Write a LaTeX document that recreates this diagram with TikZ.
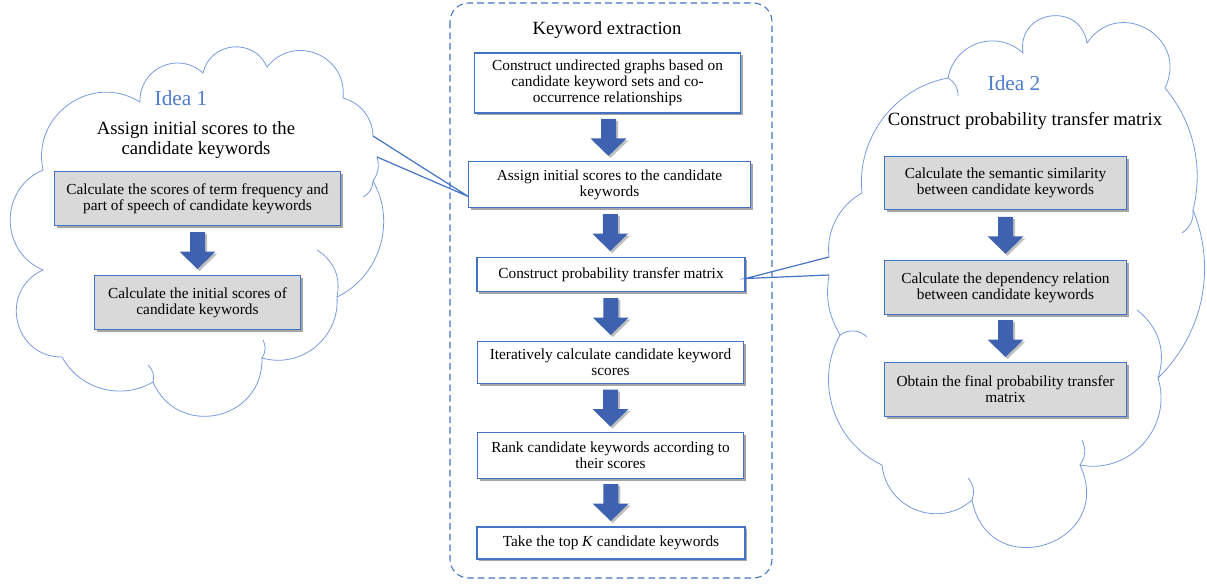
\documentclass[tikz,border=0pt]{standalone}
\usepackage{fontspec}
\setmainfont{Liberation Serif}
\usetikzlibrary{shadows,calc}

\definecolor{boxblue}{RGB}{68,114,196}
\definecolor{cloudblue}{RGB}{120,155,222}
\definecolor{arrowblue}{RGB}{62,98,176}
\definecolor{boxgray}{RGB}{217,217,217}
\definecolor{ideablue}{RGB}{78,124,206}

\tikzset{
  stepbox/.style={draw=boxblue, fill=white, line width=0.8pt, align=center,
    font=\fontsize{11.5}{11.8}\selectfont, inner sep=2pt,
    drop shadow={shadow xshift=1.8pt, shadow yshift=-1.8pt, opacity=0.35, fill=black}},
  graybox/.style={stepbox, fill=boxgray},
  blockarr/.style={fill=arrowblue,
    drop shadow={shadow xshift=1.5pt, shadow yshift=-1.5pt, opacity=0.25, fill=black}},
  cloudline/.style={draw=cloudblue, line width=0.6pt},
  callout/.style={draw=boxblue, line width=0.9pt},
  puff/.style={bend right=#1},
}
% block arrow half way between two boxes
\newcommand{\blockarrow}[2]{%
  \path [blockarr] ($(#1.south)!0.5!(#2.north)$) ++(-7.5,-18.5) -- ++(15,0) -- ++(0,19.5)
    -- ++(10.5,0) -- ++(-18,17.5) -- ++(-18,-17.5) -- ++(10.5,0) -- cycle;}

\begin{document}
\begin{tikzpicture}[x=0.75pt,y=0.75pt,yscale=-1,xscale=1]
\useasboundingbox (0,0) rectangle (1207,583);

% keyword extraction frame
\draw [boxblue, line width=0.8pt, dash pattern=on 5pt off 3pt, rounded corners=14pt] (450,3) rectangle (772,578);
\node [font=\fontsize{14}{16}\selectfont] (title) at (607,30) {Keyword extraction};

\node [stepbox, minimum width=200pt, minimum height=45pt] (cons) at (607.5,83)
  {Construct undirected graphs based on\\candidate keyword sets and co-\\occurrence relationships};
\node [stepbox, minimum width=211pt, minimum height=34pt] (assign) at (609.5,184.5)
  {Assign initial scores to the candidate\\keywords};
\node [stepbox, minimum width=201pt, minimum height=25pt] (matrix) at (611,274.5)
  {Construct probability transfer matrix};
\node [stepbox, minimum width=200pt, minimum height=31pt] (iter) at (610.5,362.5)
  {Iteratively calculate candidate keyword\\scores};
\node [stepbox, minimum width=200pt, minimum height=34pt] (rank) at (610.5,455.5)
  {Rank candidate keywords according to\\their scores};
\node [stepbox, minimum width=201pt, minimum height=24pt] (topk) at (611,543)
  {Take the top \textit{K} candidate keywords};

\foreach \a/\b in {cons/assign, assign/matrix, matrix/iter, iter/rank, rank/topk}
  \blockarrow{\a}{\b};

% idea 1
\node [font=\fontsize{16}{18}\selectfont, text=ideablue] (idea1) at (181,98) {Idea 1};
\node [font=\fontsize{14}{14.3}\selectfont, align=center] (head1) at (196,140) {Assign initial scores to the\\candidate keywords};
\node [graybox, minimum width=214pt, minimum height=40pt] (freq) at (197.5,198.5)
  {Calculate the scores of term frequency and\\part of speech of candidate keywords};
\node [graybox, minimum width=154pt, minimum height=40pt] (init) at (197.5,302.5)
  {Calculate the initial scores of\\candidate keywords};
\blockarrow{freq}{init}

% idea 2
\node [font=\fontsize{16}{18}\selectfont, text=ideablue] (idea2) at (1014,83) {Idea 2};
\node [font=\fontsize{14}{16}\selectfont] (head2) at (1025,121) {Construct probability transfer matrix};
\node [graybox, minimum width=181pt, minimum height=40pt] (sem) at (1005.5,183)
  {Calculate the semantic similarity\\between candidate keywords};
\node [graybox, minimum width=181pt, minimum height=40pt] (dep) at (1005.5,287.5)
  {Calculate the dependency relation\\between candidate keywords};
\node [graybox, minimum width=181pt, minimum height=40pt] (final) at (1005.5,389.5)
  {Obtain the final probability transfer\\matrix};
\blockarrow{sem}{dep}
\blockarrow{dep}{final}

% left cloud
\coordinate (p1) at (373,136);
\coordinate (p2) at (377,157);
\draw [cloudline] (p2) to[puff=25] (373,181) to[puff=47] (337,297) to[puff=55,looseness=1.08] (262,358)
  to[puff=79,looseness=1.43] (153,382) to[puff=46,looseness=1] (62,357)
  to[puff=78,looseness=1.41] (43,270) to[puff=67,looseness=1.22] (43,170)
  to[puff=67,looseness=1.22] (140,102) to[puff=67,looseness=1.24] (203,73)
  to[puff=72,looseness=1.29] (267,67) to[puff=74,looseness=1.34] (343,98)
  to[puff=37,looseness=0.95] (p1);
\draw [cloudline] (373,181) to[bend right=30] (363,197)
  (337,297) to[bend left=35] (317,250)
  (262,358) to[bend left=30] (263,340)
  (153,382) to[bend left=30] (148,365);
\draw [callout] (p1) -- ([yshift=9pt]assign.west) -- (p2);

% right cloud
\coordinate (q1) at (829,257);
\coordinate (q2) at (829,275);
\draw [cloudline] (q1) to[puff=34,looseness=0.93] (862,193) to[puff=43,looseness=0.97] (948,78)
  to[puff=61,looseness=1.16] (1023,53) to[puff=90,looseness=1.7] (1087,43)
  to[puff=86,looseness=1.6] (1165,88) to[puff=27,looseness=0.91] (1193,210)
  to[puff=34,looseness=0.94] (1158,378) to[puff=59,looseness=1.12] (1080,465)
  to[puff=97,looseness=1.97] (972,500) to[puff=63,looseness=1.17] (882,465)
  to[puff=47,looseness=1] (840,335) to[puff=19,looseness=1] (q2);
\draw [cloudline] (948,78) to[bend right=30] (958,96)
  (1193,210) to[bend right=30] (1182,233)
  (1158,378) to[bend left=35] (1137,310)
  (1080,465) to[bend left=30] (1082,440)
  (972,500) to[bend left=30] (968,478)
  (840,335) to[bend right=40] (867,337);
\draw [callout] (q2) -- ([yshift=3pt]matrix.east) -- (q1);
\end{tikzpicture}
\end{document}
